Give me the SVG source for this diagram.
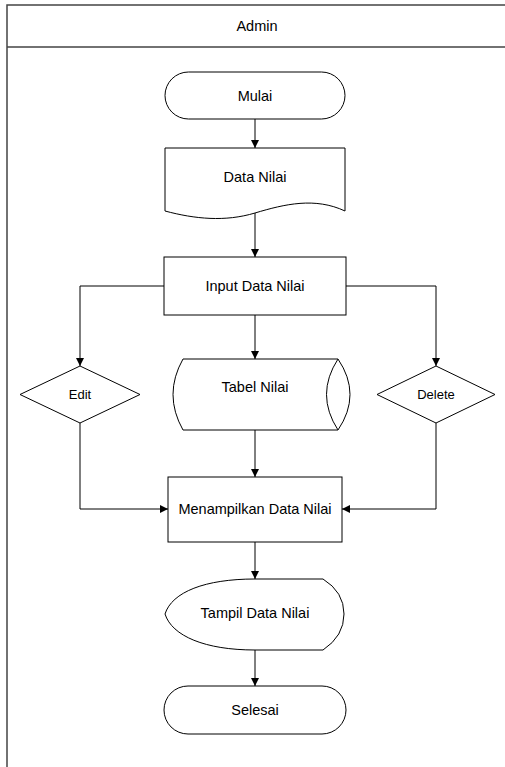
<svg xmlns="http://www.w3.org/2000/svg" width="505" height="767" viewBox="0 0 505 767">
<style>
.shape{fill:#fff;stroke:#000;stroke-width:1}
.lbl{font-family:"Liberation Sans",Arial,sans-serif;font-size:14.5px;fill:#000;text-anchor:middle;dominant-baseline:central}
.small{font-size:13px}
.conn{fill:none;stroke:#000;stroke-width:1;marker-end:url(#arr)}
.frame{fill:none;stroke:#444;stroke-width:1.5}
</style>
<defs>
<marker id="arr" markerUnits="userSpaceOnUse" markerWidth="9" markerHeight="8" refX="8" refY="4" orient="auto">
<path d="M0,0 L8,4 L0,8 Z" fill="#000"/>
</marker>
</defs>
<rect width="505" height="767" fill="#fff"/>
<g id="lane">
<path class="frame" d="M7,767 V5 H505 M7,47 H505"/>
<text class="lbl" x="257" y="26">Admin</text>
</g>
<g id="connectors">
<path class="conn" d="M255,119 V148"/>
<path class="conn" d="M255,213 V257"/>
<path class="conn" d="M255,315 V359"/>
<path class="conn" d="M165,286 H80 V366"/>
<path class="conn" d="M346,286 H436 V366"/>
<path class="conn" d="M255,430 V477"/>
<path class="conn" d="M80,423 V509 H168"/>
<path class="conn" d="M436,423 V509 H342"/>
<path class="conn" d="M255,542 V579"/>
<path class="conn" d="M255,650 V686"/>
</g>
<g id="mulai">
<rect class="shape" x="165" y="72" width="180" height="47" rx="23.5" ry="23.5"/>
<text class="lbl" x="255" y="95.5">Mulai</text>
</g>
<g id="data-nilai">
<path class="shape" d="M165,148 H345 V211 C315,197 285,204 255,213 C225,222 195,219 165,211 Z"/>
<text class="lbl" x="255" y="177">Data Nilai</text>
</g>
<g id="input-data-nilai">
<rect class="shape" x="164" y="257" width="182" height="58"/>
<text class="lbl" x="255" y="286">Input Data Nilai</text>
</g>
<g id="tabel-nilai">
<path class="shape" d="M183,359 H338 Q362,394.5 338,430 H183 Q163,394.5 183,359 Z"/>
<path class="shape" d="M338,359 Q315,394.5 338,430" fill="none"/>
<text class="lbl" x="255" y="387">Tabel Nilai</text>
</g>
<g id="edit">
<path class="shape" d="M80,366 L140,394.5 L80,423 L20,394.5 Z"/>
<text class="lbl small" x="80" y="394">Edit</text>
</g>
<g id="delete">
<path class="shape" d="M436,366 L495,394.5 L436,423 L377,394.5 Z"/>
<text class="lbl small" x="436" y="394">Delete</text>
</g>
<g id="menampilkan">
<rect class="shape" x="168" y="477" width="174" height="65"/>
<text class="lbl" x="255" y="509">Menampilkan Data Nilai</text>
</g>
<g id="tampil-data-nilai">
<path class="shape" d="M165,614 C172,592 205,579 255,579 H323 Q344,592 344,614 Q344,636 323,650 H255 C205,650 172,636 165,614 Z"/>
<text class="lbl" x="255" y="613">Tampil Data Nilai</text>
</g>
<g id="selesai">
<rect class="shape" x="164" y="686" width="182" height="48" rx="24" ry="24"/>
<text class="lbl" x="255" y="710">Selesai</text>
</g>
</svg>
